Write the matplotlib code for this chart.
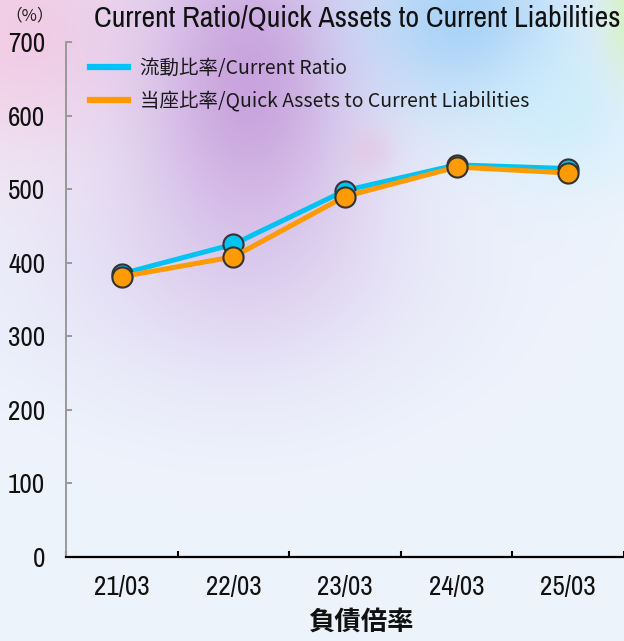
import numpy as np
import matplotlib
matplotlib.use("Agg")
import matplotlib.pyplot as plt
from matplotlib.lines import Line2D
from matplotlib.colors import to_rgb
from matplotlib import font_manager

# ---- data ----
categories = ["21/03", "22/03", "23/03", "24/03", "25/03"]
current_ratio = [385, 425, 498, 533, 528]
quick_ratio = [381, 408, 490, 530, 522]
yticks = [0, 100, 200, 300, 400, 500, 600, 700]
label_current = "流動比率/Current Ratio"
label_quick = "当座比率/Quick Assets to Current Liabilities"
title = "Current Ratio/Quick Assets to Current Liabilities"
xlabel = "負債倍率"
unit = "（%）"

names = sorted({f.name for f in font_manager.fontManager.ttflist})
cond = [n for n in names if "Condensed" in n or "Narrow" in n]
narrow = cond[:1] + ["Roboto", "DejaVu Sans"]

W, H = 624, 641
fig = plt.figure(figsize=(W / 100, H / 100), dpi=100)

# ---- decorative pastel background ----
bg = fig.add_axes([0, 0, 1, 1], zorder=-10)
bg.set_axis_off()
yy, xx = np.mgrid[0:H, 0:W].astype(float)
img = np.ones((H, W, 3)) * np.array(to_rgb("#eef4fc"))
blobs = [
    ("#e2dbf4", 230, 270, 210, 125, 0.9),
    ("#f2cbe5", 20, 30, 130, 140, 0.95),
    ("#c89fdc", 250, 80, 115, 175, 0.95),
    ("#a2cff7", 465, 20, 110, 95, 0.9),
    ("#c6edfc", 565, 110, 85, 80, 0.65),
    ("#d4f2c0", 632, 15, 28, 60, 0.95),
    ("#e6c0e0", 370, 150, 22, 22, 0.5),
]
for col, cx, cy, sx, sy, s in blobs:
    w = s * np.exp(-(((xx - cx) / sx) ** 2 + ((yy - cy) / sy) ** 2))
    img = img * (1 - w[..., None]) + np.array(to_rgb(col)) * w[..., None]
bg.imshow(img, extent=[0, 1, 0, 1], aspect="auto", origin="upper")
bg.set_xlim(0, 1)
bg.set_ylim(0, 1)

# ---- main axes ----
L, R, B, T = 66, 624, 557, 42
ax = fig.add_axes([L / W, (H - B) / H, (R - L) / W, (B - T) / H])
ax.patch.set_alpha(0)

x = np.arange(len(categories))
blue = "#00c3f3"
orange = "#ff9a00"
ax.plot(x, current_ratio, color=blue, lw=3.6, marker="o", ms=14.5,
        mfc=blue, mec="#333333", mew=1.5, zorder=3, clip_on=False)
ax.plot(x, quick_ratio, color=orange, lw=3.6, marker="o", ms=14.5,
        mfc=orange, mec="#333333", mew=1.5, zorder=4, clip_on=False)

ax.set_xlim(-0.5, len(categories) - 0.5)
ax.set_ylim(0, 700)

cjk = ["Noto Sans CJK JP", "DejaVu Sans"]

ax.set_yticks(yticks)
ax.set_yticklabels([str(v) for v in yticks], family=narrow, fontsize=19.5, color="#111111")
ax.tick_params(axis="y", direction="in", length=4.3, width=1.4, color="#999999", pad=15)

ax.set_xticks(np.arange(len(categories) + 1) - 0.5)
ax.set_xticklabels([])
ax.set_xticks(x, minor=True)
ax.set_xticklabels(categories, minor=True, family=narrow, fontsize=19.5, color="#111111")
ax.tick_params(axis="x", which="major", direction="in", length=4.5, width=1.5, color="black")
ax.tick_params(axis="x", which="minor", length=0, pad=13)

for s in ["top", "right"]:
    ax.spines[s].set_visible(False)
ax.spines["left"].set_color("#999999")
ax.spines["left"].set_linewidth(1.4)
ax.spines["bottom"].set_color("black")
ax.spines["bottom"].set_linewidth(1.6)

handles = [Line2D([], [], color=blue, lw=4.5), Line2D([], [], color=orange, lw=4.5)]
leg = ax.legend(handles, [label_current, label_quick], loc="upper left",
                bbox_to_anchor=(90 / W, (H - 58) / H), bbox_transform=fig.transFigure,
                frameon=False, borderpad=0, borderaxespad=0, handlelength=1.95,
                handletextpad=0.6, labelspacing=0.6,
                prop={"family": cjk, "size": 14})
for t in leg.get_texts():
    t.set_color("#1a1a1a")

fig.text(621 / W, (H - 18) / H, title, ha="right", va="center",
         family=narrow, fontsize=21.5, color="#111111")
fig.text(30 / W, (H - 16) / H, unit, ha="center", va="center",
         family=cjk, fontsize=12, color="#222222")
fig.text(361 / W, (H - 622) / H, xlabel, ha="center", va="center",
         family=cjk, fontsize=19, fontweight="bold", color="#111111")

fig.savefig("out.png", dpi=100)
